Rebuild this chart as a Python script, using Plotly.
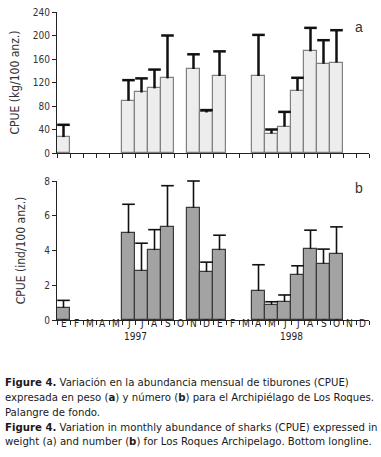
import plotly.graph_objects as go

months = ["E", "F", "M", "A", "M", "J", "J", "A", "S", "O", "N", "D"] * 2
years = ["1997", "1998"]

# Panel a: CPUE (kg/100 anz.), None = no data
kg_vals = [27, None, None, None, None, 89, 103, 110, 127, None, 143, 69,
           131, None, None, 131, 33, 45, 106, 173, 152, 154, None, None]
kg_err_top = [48, None, None, None, None, 124, 127, 142, 200, None, 168, 73,
              173, None, None, 201, 40, 70, 128, 213, 192, 209, None, None]

# Panel b: CPUE (ind/100 anz.)
ind_vals = [0.7, None, None, None, None, 5.0, 2.83, 4.02, 5.38, None, 6.45, 2.76,
            4.02, None, None, 1.67, 0.88, 1.05, 2.6, 4.08, 3.23, 3.81, None, None]
ind_err_top = [1.13, None, None, None, None, 6.66, 4.42, 5.2, 7.73, None, 8.0, 3.33,
               4.88, None, None, 3.18, 1.05, 1.44, 3.12, 5.17, 4.08, 5.36, None, None]

caption_lines = [
    "<b>Figure 4.</b> Variación en la abundancia mensual de tiburones (CPUE)",
    "expresada en peso (<b>a</b>) y número (<b>b</b>) para el Archipiélago de Los Roques.",
    "Palangre de fondo.",
    "<b>Figure 4.</b> Variation in monthly abundance of sharks (CPUE) expressed in",
    "weight (a) and number (<b>b</b>) for Los Roques Archipelago. Bottom longline.",
]

FONT = "DejaVu Sans Condensed, Liberation Sans Narrow, Liberation Sans, Arial, sans-serif"

xpos = [i + 0.5 for i in range(24)]

def split(vals, tops):
    xs, ys, lx, ly, tx, ty = [], [], [], [], [], []
    for x, v, t in zip(xpos, vals, tops):
        if v is not None:
            xs.append(x); ys.append(v)
            lx += [x, x, None]; ly += [v, t, None]
            tx.append(x); ty.append(t)
    return xs, ys, lx, ly, tx, ty

fig = go.Figure()

def add_panel(vals, tops, xa, ya, fill, edge, ew):
    xs, ys, lx, ly, tx, ty = split(vals, tops)
    fig.add_trace(go.Bar(x=xs, y=ys, width=1, xaxis=xa, yaxis=ya,
                         marker=dict(color=fill, line=dict(color=edge, width=1.2)),
                         showlegend=False, hoverinfo="skip"))
    fig.add_trace(go.Scatter(x=lx, y=ly, mode="lines", xaxis=xa, yaxis=ya,
                             line=dict(color="#111111", width=ew), showlegend=False,
                             hoverinfo="skip"))
    fig.add_trace(go.Scatter(x=tx, y=ty, mode="markers", xaxis=xa, yaxis=ya,
                             marker=dict(symbol="line-ew", size=9,
                                         line=dict(color="#111111", width=ew)),
                             showlegend=False, hoverinfo="skip", cliponaxis=False))

add_panel(kg_vals, kg_err_top, "x", "y", "#ededed", "#808080", 2.5)
add_panel(ind_vals, ind_err_top, "x2", "y2", "#a3a3a3", "#3a3a3a", 1.6)

W, H = 381, 457
L, T = 57, 12
R = W - 369
B = H - 320
ph = H - T - B
pw = W - L - R

def py(p):  # pixel y -> paper y
    return (H - B - p) / ph

def px(p):  # pixel x -> paper x
    return (p - L) / pw

axis_common = dict(showline=True, linecolor="#222222", linewidth=1, showgrid=False,
                   zeroline=False, range=[0, 24], fixedrange=True, automargin=False,
                   tickvals=list(range(25)), ticktext=[""] * 25, ticks="outside",
                   ticklen=4, tickcolor="#222222")

ycommon = dict(showline=True, linecolor="#222222", linewidth=1, ticks="outside", ticklen=4,
               tickcolor="#222222", showgrid=False, zeroline=False, automargin=False,
               fixedrange=True, tickfont=dict(size=10, color="#333333"))

fig.update_layout(
    template="none",
    width=W, height=H,
    margin=dict(l=L, r=R, t=T, b=B, autoexpand=False),
    paper_bgcolor="white", plot_bgcolor="white",
    bargap=0,
    font=dict(family=FONT, color="#222222", size=11),
    xaxis=dict(axis_common, domain=[0, 1], anchor="y"),
    yaxis=dict(ycommon, domain=[py(153), 1], anchor="x", range=[0, 240],
               tickvals=[0, 40, 80, 120, 160, 200, 240],
               title=dict(text="CPUE (kg/100 anz.)", font=dict(size=12, color="#333333"), standoff=10)),
    xaxis2=dict(axis_common, domain=[0, 1], anchor="y2"),
    yaxis2=dict(ycommon, domain=[0, py(181)], anchor="x2", range=[0, 8],
                tickvals=[0, 2, 4, 6, 8],
                title=dict(text="CPUE (ind/100 anz.)", font=dict(size=12, color="#333333"), standoff=16)),
)

ann = []
ann.append(dict(x=px(365), y=py(17), xref="paper", yref="paper", text="a", showarrow=False,
                font=dict(size=14, color="#333333", family="Liberation Sans, Arial")))
ann.append(dict(x=px(365), y=py(188), xref="paper", yref="paper", text="b", showarrow=False,
                font=dict(size=14, color="#333333", family="Liberation Sans, Arial")))
for i, m in enumerate(months):
    ann.append(dict(x=xpos[i], y=py(331), xref="x2", yref="paper", text=m, showarrow=False,
                    font=dict(size=10, color="#222222")))
for i, yr in enumerate(years):
    ann.append(dict(x=6 + 12 * i, y=py(344), xref="x2", yref="paper", text=yr, showarrow=False,
                    font=dict(size=10, color="#222222")))
line_y = [382, 397, 412, 427, 441]
for t, yy in zip(caption_lines, line_y):
    ann.append(dict(x=px(3), y=py(yy), xref="paper", yref="paper", text=t, showarrow=False,
                    xanchor="left", yanchor="middle", align="left",
                    font=dict(size=11.3, color="#1a1a1a", family=FONT)))
fig.update_layout(annotations=ann)

fig.write_html("out.html", config={"displayModeBar": False},
               post_script="document.body.style.margin='0';document.body.style.padding='0';")
